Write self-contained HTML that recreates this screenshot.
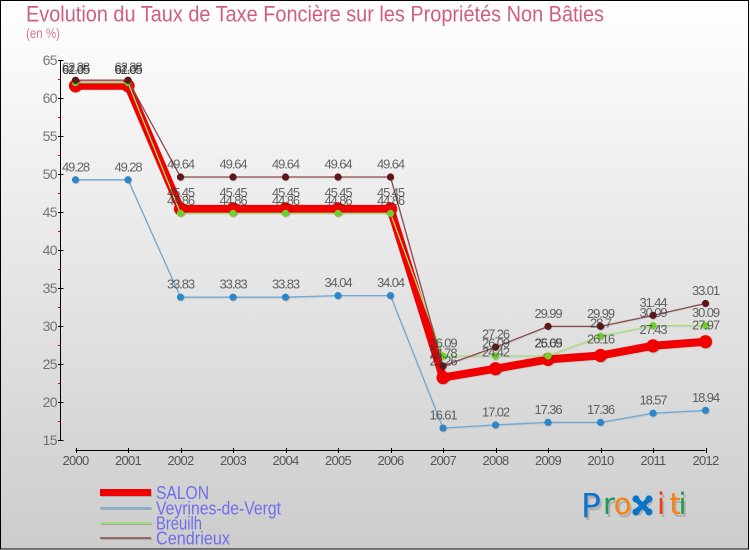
<!DOCTYPE html>
<html lang="fr">
<head>
<meta charset="utf-8">
<title>Evolution du Taux de Taxe Foncière sur les Propriétés Non Bâties</title>
<style>
html,body{margin:0;padding:0;width:750px;height:550px;overflow:hidden;background:#fff}
svg{display:block;font-family:"Liberation Sans",sans-serif}
</style>
</head>
<body>
<svg id="chart" xmlns="http://www.w3.org/2000/svg" width="750" height="550" viewBox="0 0 750 550">
  <defs>
    <linearGradient id="bg" x1="0" y1="0" x2="0" y2="1">
      <stop offset="0" stop-color="#ffffff"/>
      <stop offset="1" stop-color="#cccccc"/>
    </linearGradient>
  </defs>
  <rect x="0.5" y="0.5" width="748" height="548.5" fill="url(#bg)" stroke="#000" stroke-width="1"/>
  <text x="26" y="21.5" font-size="22" fill="#c2315f" fill-opacity="0.78" textLength="578" lengthAdjust="spacingAndGlyphs">Evolution du Taux de Taxe Foncière sur les Propriétés Non Bâties</text>
  <text x="26" y="38" font-size="13.5" fill="#d0688f" fill-opacity="0.9" textLength="34" lengthAdjust="spacingAndGlyphs">(en %)</text>
  <g id="axes"></g>
  <g id="series"></g>
  <g id="labels"></g>
  <g id="legend"></g>
  <g font-family="'DejaVu Sans',sans-serif" text-anchor="middle">
    <g fill="#000" fill-opacity="0.15" transform="translate(2,3)">
      <text x="591" y="517" font-size="33">P</text>
      <text x="609" y="514" font-size="29">r</text>
      <text x="622.5" y="514" font-size="29">o</text>
      <text x="661" y="514" font-size="29">i</text>
      <text x="675" y="514" font-size="29">t</text>
      <text x="682.5" y="514" font-size="29">i</text>
    </g>
    <text x="591" y="517" font-size="33" fill="#0a74c8">P</text>
    <text x="609" y="514" font-size="29" fill="#1d9a55">r</text>
    <text x="622.5" y="514" font-size="29" fill="#f7830f">o</text>
    <g>
      <path d="M636 499 L649 512 M649 499 L636 512" stroke="#000" stroke-opacity="0.15" stroke-width="5" transform="translate(2,2)"/>
      <path d="M636 499 L649 512 M649 499 L636 512" stroke="#0a74c8" stroke-width="5"/>
      <circle cx="636" cy="499" r="3.6" fill="#0a74c8"/>
      <circle cx="649" cy="499" r="3.6" fill="#0a74c8"/>
      <circle cx="636" cy="512" r="3.6" fill="#0a74c8"/>
      <circle cx="649" cy="512" r="3.6" fill="#0a74c8"/>
    </g>
    <text x="661" y="514" font-size="29" fill="#ee3a12">i</text>
    <text x="675" y="514" font-size="29" fill="#f7830f">t</text>
    <text x="682.5" y="514" font-size="29" fill="#1d9a55">i</text>
  </g>
</svg>
<script>
const years = [2000,2001,2002,2003,2004,2005,2006,2007,2008,2009,2010,2011,2012];
const yTicks = [15,20,25,30,35,40,45,50,55,60,65];
const salon = [61.65,61.65,45.45,45.45,45.45,45.45,45.45,23.26,24.42,25.65,26.16,27.43,27.97];
const veyrines = [49.28,49.28,33.83,33.83,33.83,34.04,34.04,16.61,17.02,17.36,17.36,18.57,18.94];
const breuilh = [62.05,62.05,44.86,44.86,44.86,44.86,44.86,26.09,26.09,26.09,28.7,30.09,30.09];
const cendrieux = [62.38,62.38,49.64,49.64,49.64,49.64,49.64,24.78,27.26,29.99,29.99,31.44,33.01];
const seriesNames = ["SALON","Veyrines-de-Vergt","Breuilh","Cendrieux"];

const NS = "http://www.w3.org/2000/svg";
function xScale(i){ return 75.5 + i * (705.5 - 75.5) / (years.length - 1); }
function yScale(v){ return 440.3 - (v - 15) * (440.3 - 60.3) / 50; }
function make(parent, tag, attrs, text){
  const el = document.createElementNS(NS, tag);
  for (const k in attrs) el.setAttribute(k, attrs[k]);
  if (text !== undefined) el.textContent = text;
  parent.appendChild(el);
  return el;
}

const axes = document.getElementById("axes");
const yAxis = make(axes, "line", {x1:60.5,y1:yScale(65),x2:60.5,y2:yScale(15),stroke:"#000","stroke-width":1});


const xAxis = make(axes, "line", {x1:xScale(0),y1:450.5,x2:xScale(years.length-1),y2:450.5,stroke:"#000","stroke-width":1});



yTicks.forEach(function(t, idx){
  const y = Math.round(yScale(t)) + 0.5;
  const tick = make(axes, "line", {x1:58,y1:y,x2:63.5,y2:y,stroke:"#000","stroke-width":1});
  
  
  const lab = make(axes, "text", {x:57,y:yScale(t)+4.5,"text-anchor":"end","font-size":14,fill:"#555","fill-opacity":0.8,"letter-spacing":-0.6}, String(t));
  
  
  if (idx < yTicks.length - 1) {
    const my = Math.round(yScale(t + 2.5)) + 0.5;
    const minor = make(axes, "line", {x1:58,y1:my,x2:60.5,y2:my,stroke:"#e00000","stroke-width":1});
    
    
  }
});

years.forEach(function(yr, i){
  const x = Math.round(xScale(i)) + 0.5;
  const tick = make(axes, "line", {x1:x,y1:448,x2:x,y2:453,stroke:"#000","stroke-width":1});
  
  
  const lab = make(axes, "text", {x:xScale(i),y:465,"text-anchor":"middle","font-size":13,fill:"#333","fill-opacity":0.8,"letter-spacing":-0.7}, String(yr));
  
  
});

const seriesStyles = [
  {values:salon, line:"#f00000", marker:"#f00000", width:8, r:6.6, gap:12},
  {values:veyrines, line:"#6ea9d6", marker:"#2f86c6", width:1.3, r:3.6, gap:8.5},
  {values:breuilh, line:"#a3e274", marker:"#6fcf2c", width:1.3, r:3.6, gap:8.5},
  {values:cendrieux, line:"#8a4b4b", marker:"#5e1616", width:1.3, r:3.6, gap:8.5}
];

const seriesLayer = document.getElementById("series");
const labelLayer = document.getElementById("labels");
seriesStyles.forEach(function(s, si){
  const pts = s.values.map(function(v, i){ return xScale(i).toFixed(1) + "," + yScale(v).toFixed(1); }).join(" ");
  const shadow = make(seriesLayer, "polyline", {points:pts,fill:"none",stroke:"#000","stroke-opacity":0.07,"stroke-width":s.width,"stroke-linejoin":"round",transform:"translate(0.7,1)"});
  
  
  const line = make(seriesLayer, "polyline", {points:pts,fill:"none",stroke:s.line,"stroke-width":s.width,"stroke-linejoin":"round"});
  
  
  s.values.forEach(function(v, i){
    const halo = make(seriesLayer, "circle", {cx:xScale(i)+0.7,cy:yScale(v)+1,r:s.r,fill:"#000","fill-opacity":0.14});
    
    
    const dot = make(seriesLayer, "circle", {cx:xScale(i),cy:yScale(v),r:s.r,fill:s.marker});
    
    
    const lab = make(labelLayer, "text", {x:xScale(i),y:yScale(v)-s.gap,"text-anchor":"middle","font-size":13,fill:"#333","fill-opacity":0.75,"letter-spacing":-1.1}, String(v));
    
    
  });
});

const legend = document.getElementById("legend");
const legendWidths = [53,125,46,74];
const legendThickness = [7,2,2,2];
const legendRows = [492.5,508,523,538];
const legendColors = ["#f00000","#7fb0d2","#a3dc7c","#966a6a"];
seriesNames.forEach(function(name, i){
  const sh = make(legend, "rect", {x:101,y:legendRows[i]-legendThickness[i]/2+1,width:51,height:legendThickness[i],fill:"#000","fill-opacity":0.18});
  
  
  const sw = make(legend, "rect", {x:100,y:legendRows[i]-legendThickness[i]/2,width:51,height:legendThickness[i],fill:legendColors[i]});
  
  
  const t = make(legend, "text", {x:156,y:legendRows[i]+6.5,"font-size":18,fill:"#6464f0","fill-opacity":0.9,textLength:legendWidths[i],lengthAdjust:"spacingAndGlyphs"}, name);
  
  
});
</script>
</body>
</html>
